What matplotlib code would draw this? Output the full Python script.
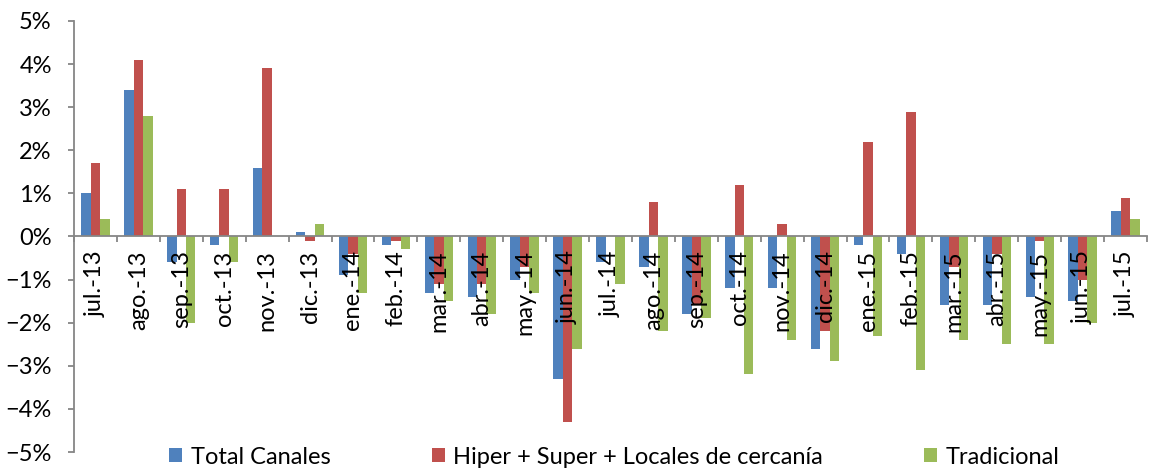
import matplotlib
matplotlib.use("Agg")
import matplotlib.pyplot as plt
import numpy as np
from matplotlib.ticker import FixedLocator, PercentFormatter

plt.rcParams['font.family'] = ['Lato', 'DejaVu Sans']

months = ["jul.-13", "ago.-13", "sep.-13", "oct.-13", "nov.-13", "dic.-13",
          "ene.-14", "feb.-14", "mar.-14", "abr.-14", "may.-14", "jun.-14",
          "jul.-14", "ago.-14", "sep.-14", "oct.-14", "nov.-14", "dic.-14",
          "ene.-15", "feb.-15", "mar.-15", "abr.-15", "may.-15", "jun.-15",
          "jul.-15"]

total_canales = [1.0, 3.4, -0.6, -0.2, 1.6, 0.1,
                 -0.9, -0.2, -1.3, -1.4, -1.0, -3.3,
                 -0.6, -0.7, -1.8, -1.2, -1.2, -2.6,
                 -0.2, -0.4, -1.6, -1.6, -1.4, -1.5,
                 0.6]
hiper_super = [1.7, 4.1, 1.1, 1.1, 3.9, -0.1,
               -0.4, -0.1, -1.1, -1.1, -0.7, -4.3,
               0.0, 0.8, -1.6, 1.2, 0.3, -2.2,
               2.2, 2.9, -0.7, -0.4, -0.1, -1.0,
               0.9]
tradicional = [0.4, 2.8, -2.0, -0.6, 0.0, 0.3,
               -1.3, -0.3, -1.5, -1.8, -1.3, -2.6,
               -1.1, -2.2, -1.9, -3.2, -2.4, -2.9,
               -2.3, -3.1, -2.4, -2.5, -2.5, -2.0,
               0.4]

series_names = ["Total Canales", "Hiper + Super + Locales de cercanía", "Tradicional"]
series_colors = ["#4F81BD", "#C0504D", "#9BBB59"]
axis_grey = "#868686"
FS = 17

W, H = 1157, 469
fig = plt.figure(figsize=(W / 100, H / 100), dpi=100)
ax = fig.add_axes([74 / W, 1 - 452 / H, (1147 - 74) / W, (452 - 21) / H])

x = np.arange(len(months))
bw = 0.22
for i, (vals, name, col) in enumerate(zip([total_canales, hiper_super, tradicional],
                                           series_names, series_colors)):
    ax.bar(x + (i - 1) * bw, vals, width=bw, color=col, label=name, zorder=1)

# axis lines and labels drawn over the bars
ax.set_axisbelow(False)

ax.set_xlim(-0.5, len(months) - 0.5)
ax.set_ylim(-5, 5)
ax.yaxis.set_major_locator(FixedLocator(np.arange(-5, 6, 1)))
ax.yaxis.set_major_formatter(PercentFormatter(decimals=0))

# category axis crosses at zero, ticks between categories
ax.spines['bottom'].set_position(('data', 0))
for s in ['top', 'right']:
    ax.spines[s].set_visible(False)
for s in ['left', 'bottom']:
    ax.spines[s].set_color(axis_grey)
    ax.spines[s].set_linewidth(1.3)

ax.set_xticks(x)
ax.set_xticklabels(months, rotation=90, fontsize=FS, color='black')
ax.tick_params(axis='x', which='major', length=0, pad=10)
ax.set_xticks(np.arange(-0.5, len(months), 1), minor=True)
ax.tick_params(axis='x', which='minor', length=4, width=1.3, color=axis_grey, direction='out')
ax.tick_params(axis='y', length=4, width=1.3, color=axis_grey, labelsize=FS, pad=12)

fig.legend(loc='center', bbox_to_anchor=(0.5 + 36 / W, 1 - 457 / H), ncol=3, frameon=False,
           fontsize=FS, handlelength=0.55, handleheight=0.55, handletextpad=0.35,
           columnspacing=4.3, borderaxespad=0, borderpad=0)

fig.savefig("out.png", dpi=100)
